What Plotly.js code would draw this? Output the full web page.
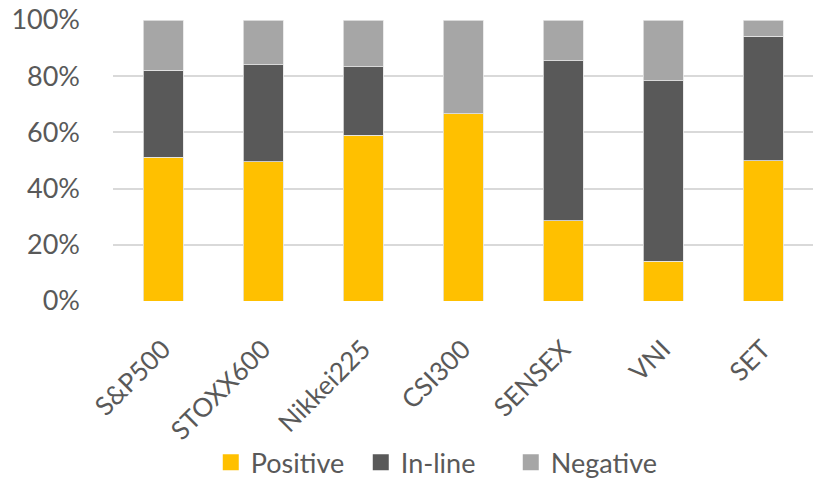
<!DOCTYPE html>
<html>
<head>
<meta charset="utf-8">
<script src="https://cdn.plot.ly/plotly-3.0.1.min.js"></script>
<style>
html,body{margin:0;padding:0;background:#fff;}
#chart{width:813px;height:482px;}
</style>
</head>
<body>
<div id="chart"></div>
<script>
var categories = ["S&P500", "STOXX600", "Nikkei225", "CSI300", "SENSEX", "VNI", "SET"];
var positive = [51.2, 49.6, 58.9, 66.7, 28.5, 14.1, 50.0];
var inline   = [30.9, 34.4, 24.4, 0.0, 57.0, 64.2, 44.3];
var negative = [17.9, 16.0, 16.7, 33.3, 14.5, 21.7, 5.7];
var seriesNames = ["Positive", "In-line", "Negative"];
var colors = ["#FFC000", "#595959", "#A6A6A6"];
var tickVals = [0, 20, 40, 60, 80, 100];
var tickText = ["0%", "20%", "40%", "60%", "80%", "100%"];

var seriesData = [positive, inline, negative];
var traces = [];
seriesData.forEach(function (vals, i) {
  traces.push({
    type: "bar",
    x: categories,
    y: vals,
    name: seriesNames[i],
    marker: { color: colors[i], line: { color: "#e6e6e6", width: 0.8 } },
    showlegend: false,
    hoverinfo: "x+y+name"
  });
});
seriesNames.forEach(function (n, i) {
  traces.push({
    type: "scatter",
    mode: "markers",
    x: [null],
    y: [null],
    name: n,
    marker: { color: colors[i], symbol: "square", size: 20 },
    showlegend: true
  });
});

var layout = {
  width: 813,
  height: 482,
  barmode: "stack",
  bargap: 0.6,
  margin: { l: 113, r: 0, t: 20, b: 181 },
  paper_bgcolor: "#ffffff",
  plot_bgcolor: "#ffffff",
  font: { family: "Lato, 'Open Sans', sans-serif", color: "#595959", size: 27 },
  xaxis: {
    type: "category",
    tickangle: -45,
    ticks: "",
    showgrid: false,
    zeroline: false,
    showline: false,
    ticklabelstandoff: 27,
    tickfont: { size: 26, color: "#595959" },
    automargin: false
  },
  yaxis: {
    range: [0, 100],
    tickvals: tickVals,
    ticktext: tickText,
    showgrid: true,
    gridcolor: "#d9d9d9",
    gridwidth: 2,
    zeroline: false,
    showline: false,
    ticks: "",
    ticklabelstandoff: 32,
    tickfont: { size: 27, color: "#595959" },
    automargin: false,
    fixedrange: true
  },
  showlegend: true,
  legend: {
    orientation: "h",
    traceorder: "normal",
    xref: "container",
    yref: "container",
    x: 0.536,
    xanchor: "center",
    y: 0.04,
    yanchor: "middle",
    entrywidth: 105,
    entrywidthmode: "pixels",
    font: { size: 27, color: "#595959" },
    itemclick: false
  }
};

Plotly.newPlot("chart", traces, layout, { displayModeBar: false, staticPlot: true });
</script>
</body>
</html>
